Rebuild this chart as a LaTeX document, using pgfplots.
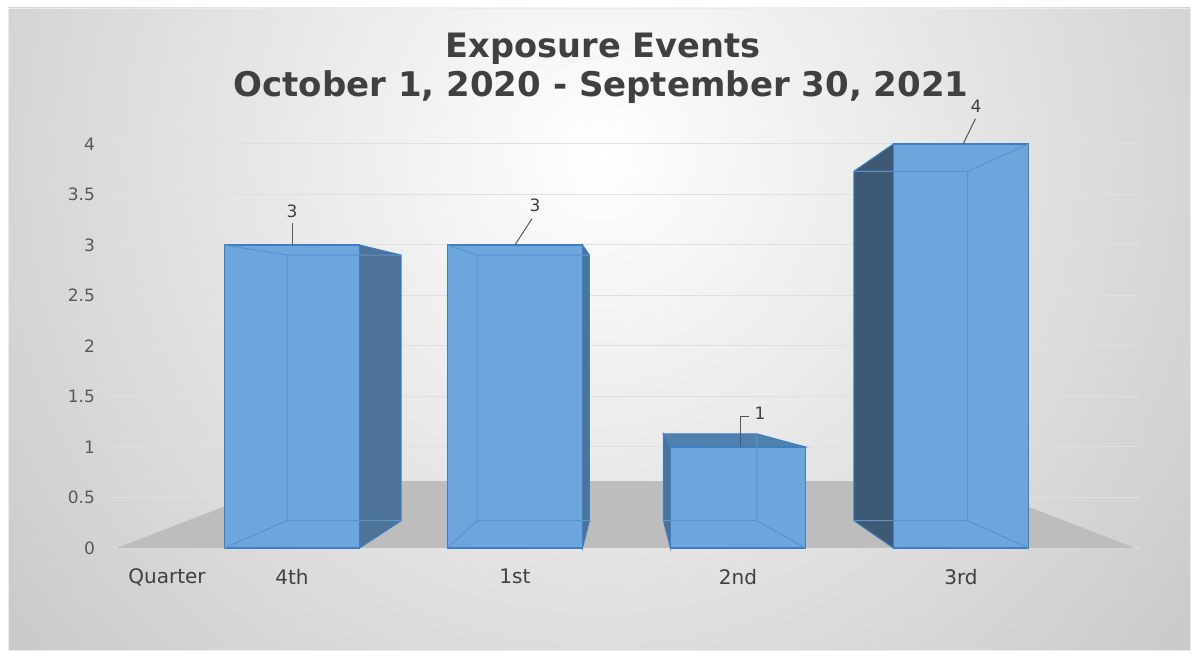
\documentclass[border=0pt]{standalone}
\usepackage{pgfplots}
\usepackage{pgfplotstable}
\pgfplotsset{compat=1.18}
\usepackage{fontspec}
\setmainfont{DejaVu Sans}
\definecolor{titlegray}{HTML}{404040}
\definecolor{tickgray}{HTML}{595959}
\definecolor{floorgray}{HTML}{BDBDBD}
\definecolor{frontblue}{HTML}{6DA6DC}
\definecolor{edgeblue}{HTML}{3F7EC2}
\definecolor{inneredge}{HTML}{5A93CF}
\definecolor{sideblue}{HTML}{4D7398}
\definecolor{sidedark}{HTML}{3E5974}
\definecolor{topblue}{HTML}{5080AE}

\pgfplotstableread{
x y dx dy
0 3 0 17
1 3 10 20
2 1 11 17
3 4 7.5 19
}\bardata

\begin{document}
\begin{tikzpicture}
\fill[white] (0pt,0pt) rectangle (598pt,328pt);
\begin{scope}
\clip (4pt,3pt) rectangle (595pt,324pt);
\shade[inner color=white,outer color=black!21] (-80pt,-140pt) rectangle (680pt,640pt);
\end{scope}
\draw[black!8] (4pt,3pt) rectangle (595pt,324pt);
\node[anchor=base,font=\bfseries\fontsize{16.8}{20}\selectfont,text=titlegray] at (301.5pt,299pt) {Exposure Events};
\node[anchor=base,font=\bfseries\fontsize{17}{20}\selectfont,text=titlegray] at (300.5pt,279.5pt) {October 1, 2020 - September 30, 2021};
\begin{axis}[
  at={(55pt,54pt)}, anchor=south west,
  scale only axis, width=515pt, height=202pt,
  xmin=-0.816, xmax=3.803, ymin=0, ymax=4,
  clip=false,
  axis line style={draw=none},
  major tick length=0pt,
  ytick={0,0.5,1,1.5,2,2.5,3,3.5,4},
  ymajorgrids, major grid style={black!12, line width=0.5pt},
  xtick={-0.56,0,1,2,3},
  xticklabels={Quarter,4th,1st,2nd,3rd},
  /pgf/number format/assume math mode=true,
  yticklabel style={font=\fontsize{8.5}{10}\selectfont, text=tickgray, anchor=east, xshift=-4pt},
  xticklabel style={font=\fontsize{10}{12}\selectfont, text=titlegray, anchor=north, yshift=-7pt},
]
% floor
\addplot[fill=floorgray, draw=none, forget plot] coordinates {(-0.785,0) (-0.009,0.663) (3.004,0.663) (3.78,0)} -- cycle;
% side and top faces
\addplot[fill=sideblue, draw=edgeblue, line width=0.5pt, forget plot] coordinates {(0.303,0) (0.303,3) (0.49,2.9) (0.49,0.27)} -- cycle;
\addplot[fill=sideblue, draw=edgeblue, line width=0.5pt, forget plot] coordinates {(1.303,0) (1.303,3) (1.334,2.9) (1.334,0.27)} -- cycle;
\addplot[fill=sideblue, draw=edgeblue, line width=0.5pt, forget plot] coordinates {(1.697,0) (1.697,1) (1.666,1.13) (1.666,0.27)} -- cycle;
\addplot[fill=topblue, draw=edgeblue, line width=0.5pt, forget plot] coordinates {(1.697,1) (2.303,1) (2.085,1.13) (1.666,1.13)} -- cycle;
\addplot[fill=sidedark, draw=edgeblue, line width=0.5pt, forget plot] coordinates {(2.697,0) (2.697,4) (2.52,3.73) (2.52,0.27)} -- cycle;
% front faces
\addplot[ybar, bar width=67.5pt, fill=frontblue, draw=edgeblue, line width=0.8pt,
  nodes near coords,
  visualization depends on={\thisrow{dx} \as \dx},
  visualization depends on={\thisrow{dy} \as \dy},
  every node near coord/.append style={anchor=center, font=\fontsize{8.5}{10}\selectfont, text=titlegray, xshift=\dx pt, yshift=\dy pt},
] table[x=x, y=y] {\bardata};
% inner back edges
\draw[inneredge, line width=0.5pt] (axis cs:-0.303,3) -- (axis cs:-0.022,2.9) -- (axis cs:0.49,2.9)
  (axis cs:-0.022,2.9) -- (axis cs:-0.022,0.27) -- (axis cs:0.49,0.27) (axis cs:-0.022,0.27) -- (axis cs:-0.303,0);
\draw[inneredge, line width=0.5pt] (axis cs:0.697,3) -- (axis cs:0.83,2.9) -- (axis cs:1.334,2.9)
  (axis cs:0.83,2.9) -- (axis cs:0.83,0.27) -- (axis cs:1.334,0.27) (axis cs:0.83,0.27) -- (axis cs:0.697,0);
\draw[inneredge, line width=0.5pt] (axis cs:2.085,1.13) -- (axis cs:2.085,0.27) -- (axis cs:1.666,0.27)
  (axis cs:2.085,0.27) -- (axis cs:2.303,0);
\draw[inneredge, line width=0.5pt] (axis cs:3.303,4) -- (axis cs:3.03,3.73) -- (axis cs:2.52,3.73)
  (axis cs:3.03,3.73) -- (axis cs:3.03,0.27) -- (axis cs:2.52,0.27) (axis cs:3.03,0.27) -- (axis cs:3.303,0);
% leader lines
\draw[tickgray, line width=0.5pt] (axis cs:0.004,3) -- (axis cs:0.004,3.22);
\draw[tickgray, line width=0.5pt] (axis cs:1.0,3) -- (axis cs:1.076,3.26);
\draw[tickgray, line width=0.5pt] (axis cs:2.01,1) -- (axis cs:2.01,1.30) -- (axis cs:2.05,1.30);
\draw[tickgray, line width=0.5pt] (axis cs:3.01,4) -- (axis cs:3.065,4.25);
\end{axis}
\end{tikzpicture}
\end{document}
